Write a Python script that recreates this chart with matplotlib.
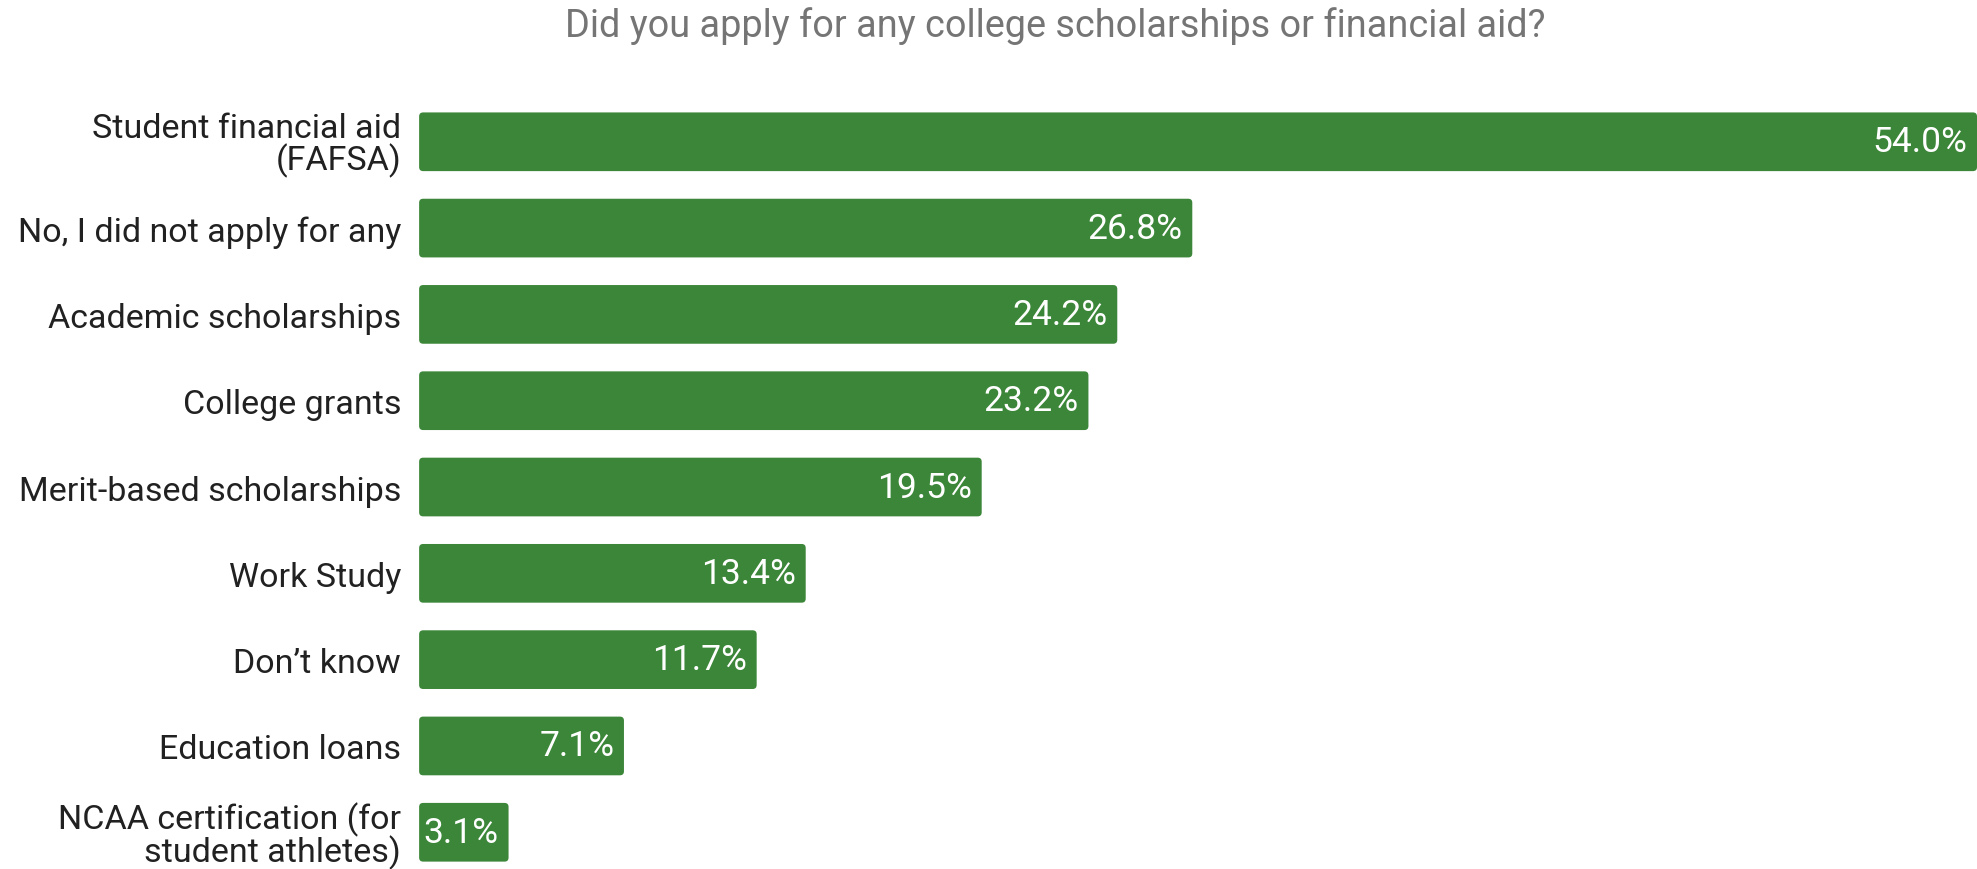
import matplotlib

matplotlib.use("Agg")
import matplotlib.pyplot as plt
from matplotlib.patches import FancyBboxPatch

plt.rcParams["font.family"] = ["Roboto", "DejaVu Sans"]

categories = [
    "Student financial aid\n(FAFSA)",
    "No, I did not apply for any",
    "Academic scholarships",
    "College grants",
    "Merit-based scholarships",
    "Work Study",
    "Don\u2019t know",
    "Education loans",
    "NCAA certification (for\nstudent athletes)",
]
shares = [54.0, 26.8, 24.2, 23.2, 19.5, 13.4, 11.7, 7.1, 3.1]

bar_color = "#3b8638"

fig = plt.figure(figsize=(19.77, 8.7), dpi=100)
ax_box = [0.212, 0.0075, 0.788, 0.878]
ax = fig.add_axes(ax_box)

ypos = list(range(len(categories)))
bars = ax.barh(ypos, shares, height=0.68, color=bar_color)
ax.set_xlim(0, 54.0)
ax.set_ylim(8.35, -0.5)

# swap the square bars for ones with slightly rounded corners
x_per_px = 54.0 / (ax_box[2] * 1977)
y_per_px = 8.85 / (ax_box[3] * 870)
for b in bars:
    rounded = FancyBboxPatch((b.get_x(), b.get_y()), b.get_width(), b.get_height(),
                             boxstyle=f"round,pad=0,rounding_size={4 * x_per_px}",
                             mutation_aspect=y_per_px / x_per_px,
                             facecolor=bar_color, edgecolor="none")
    ax.add_patch(rounded)
    b.remove()

ax.set_yticks(ypos)
ax.set_yticklabels(categories, fontsize=24.5, color="#212121", linespacing=0.93)
ax.tick_params(axis="y", length=0, pad=13)
ax.set_xticks([])
for side in ax.spines.values():
    side.set_visible(False)

# value labels sit just inside the end of each bar
for y, v in zip(ypos, shares):
    ax.annotate(f"{v:.1f}%", xy=(v, y), xytext=(-7, 0), textcoords="offset points",
                ha="right", va="center", color="white", fontsize=25.5)

fig.text(0.534, 0.97, "Did you apply for any college scholarships or financial aid?",
         ha="center", va="center", fontsize=27.3, color="#757575")

fig.savefig("out.png", dpi=100, facecolor="white")
